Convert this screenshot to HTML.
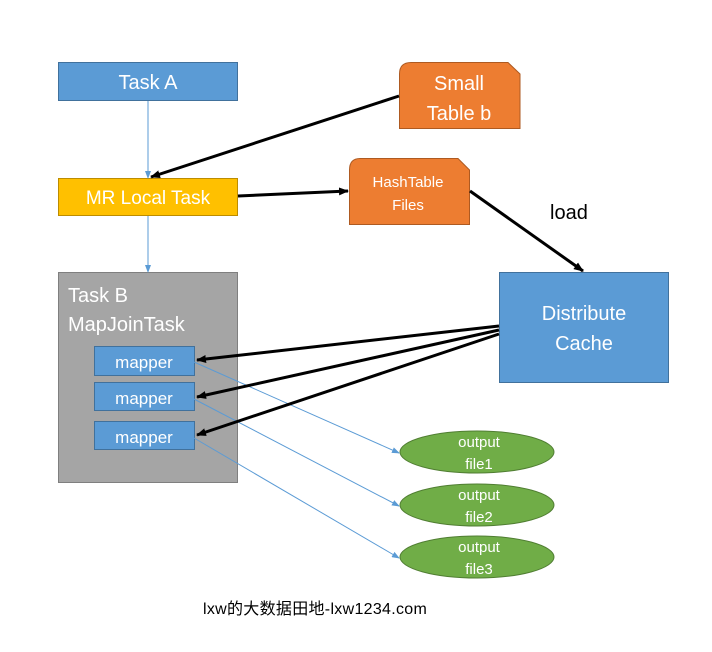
<!DOCTYPE html>
<html><head><meta charset="utf-8"><style>
html,body{margin:0;padding:0;background:#fff;}
svg text{font-family:"Liberation Sans","Noto Sans CJK SC",sans-serif;}
</style></head><body>
<svg width="712" height="647" viewBox="0 0 712 647" xmlns="http://www.w3.org/2000/svg">
<defs>
<marker id="bk" markerWidth="10" markerHeight="8" refX="9" refY="4" orient="auto" markerUnits="userSpaceOnUse"><path d="M0,0 L10,4 L0,8 z" fill="#000"/></marker>
<marker id="bl" markerWidth="8" markerHeight="6" refX="7" refY="3" orient="auto" markerUnits="userSpaceOnUse"><path d="M0,0 L8,3 L0,6 z" fill="#5b9bd5"/></marker>
</defs>
<rect x="58.5" y="62.5" width="179" height="38" fill="#5b9bd5" stroke="#41719c"/>
<text x="148" y="89" font-size="20" fill="#fff" text-anchor="middle">Task A</text>
<rect x="58.5" y="178.5" width="179" height="37" fill="#ffc000" stroke="#bc8c00"/>
<text x="148" y="204" font-size="19" fill="#fff" text-anchor="middle">MR Local Task</text>
<path d="M411,62.5 L508,62.5 L520,74 L520,128.5 L399.5,128.5 L399.5,74 Q399.5,62.5 411,62.5 z" fill="#ed7d31" stroke="#ae5a21"/>
<text x="459" y="90" font-size="20" fill="#fff" text-anchor="middle">Small</text>
<text x="459" y="120" font-size="20" fill="#fff" text-anchor="middle">Table b</text>
<path d="M360,158.5 L458,158.5 L469.5,170 L469.5,224.5 L349.5,224.5 L349.5,170 Q349.5,158.5 360,158.5 z" fill="#ed7d31" stroke="#ae5a21"/>
<text x="408" y="187" font-size="15" fill="#fff" text-anchor="middle">HashTable</text>
<text x="408" y="210" font-size="15" fill="#fff" text-anchor="middle">Files</text>
<rect x="58.5" y="272.5" width="179" height="210" fill="#a5a5a5" stroke="#7f7f7f"/>
<text x="68" y="302" font-size="20" fill="#fff">Task B</text>
<text x="68" y="331" font-size="20" fill="#fff">MapJoinTask</text>
<rect x="94.5" y="346.5" width="100" height="29" fill="#5b9bd5" stroke="#41719c"/>
<text x="144" y="368" font-size="17" fill="#fff" text-anchor="middle">mapper</text>
<rect x="94.5" y="382.5" width="100" height="28" fill="#5b9bd5" stroke="#41719c"/>
<text x="144" y="404" font-size="17" fill="#fff" text-anchor="middle">mapper</text>
<rect x="94.5" y="421.5" width="100" height="28" fill="#5b9bd5" stroke="#41719c"/>
<text x="144" y="443" font-size="17" fill="#fff" text-anchor="middle">mapper</text>
<rect x="499.5" y="272.5" width="169" height="110" fill="#5b9bd5" stroke="#41719c"/>
<text x="584" y="320" font-size="20" fill="#fff" text-anchor="middle">Distribute</text>
<text x="584" y="350" font-size="20" fill="#fff" text-anchor="middle">Cache</text>
<text x="550" y="219" font-size="20" fill="#000">load</text>
<g fill="#70ad47" stroke="#507e32">
<ellipse cx="477" cy="452" rx="77" ry="21"/>
<ellipse cx="477" cy="505" rx="77" ry="21"/>
<ellipse cx="477" cy="557" rx="77" ry="21"/>
</g>
<g font-size="15" fill="#fff" text-anchor="middle">
<text x="479" y="447">output</text><text x="479" y="469">file1</text>
<text x="479" y="500">output</text><text x="479" y="522">file2</text>
<text x="479" y="552">output</text><text x="479" y="574">file3</text>
</g>
<g stroke="#5b9bd5" stroke-width="1" fill="none" marker-end="url(#bl)">
<line x1="148" y1="101" x2="148" y2="178"/>
<line x1="148" y1="216" x2="148" y2="272"/>
<line x1="194" y1="362" x2="399" y2="453"/>
<line x1="194" y1="399" x2="399" y2="506"/>
<line x1="194" y1="438" x2="399" y2="558"/>
</g>
<g stroke="#000" stroke-width="3" fill="none" marker-end="url(#bk)">
<line x1="399" y1="96" x2="151" y2="177"/>
<line x1="238" y1="196" x2="348" y2="191"/>
<line x1="470" y1="191" x2="583" y2="271"/>
<line x1="499" y1="326" x2="197" y2="360"/>
<line x1="499" y1="330" x2="197" y2="397"/>
<line x1="499" y1="334" x2="197" y2="435"/>
</g>
<text x="203" y="614" font-size="16" letter-spacing="0.3" fill="#000">lxw的大数据田地-lxw1234.com</text>
</svg>
</body></html>
